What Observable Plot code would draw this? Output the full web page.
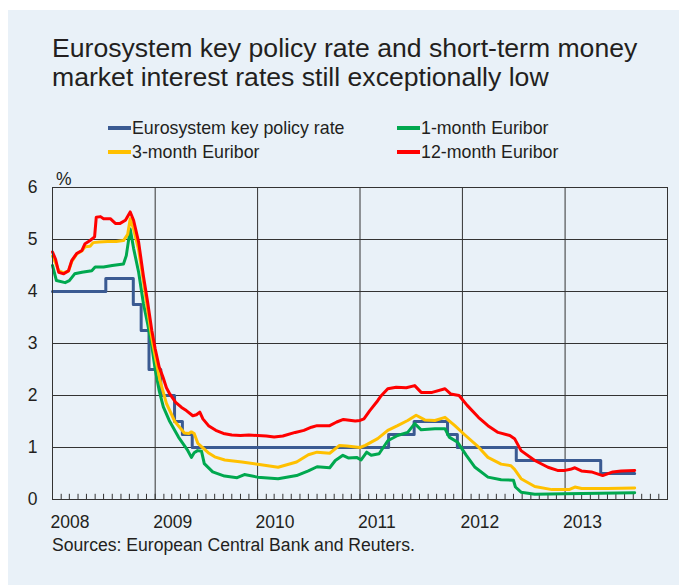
<!DOCTYPE html>
<html><head><meta charset="utf-8">
<script src="https://cdn.jsdelivr.net/npm/d3@7"></script>
<script src="https://cdn.jsdelivr.net/npm/@observablehq/plot@0.6"></script>
<style>
body{margin:0;background:#fff;width:679px;height:585px;overflow:hidden;position:relative;font-family:"Liberation Sans",Arial,sans-serif;color:#231f20}
#bg{position:absolute;left:8px;top:10px;right:0;bottom:0;background:#e9f1f8}
#title{position:absolute;left:52px;top:34px;font-size:26.6px;line-height:29px;white-space:nowrap}
.leg{position:absolute;font-size:17.8px;line-height:20px;white-space:nowrap}
.sw{display:inline-block;width:23px;height:4px;vertical-align:middle;margin-right:1px;position:relative;top:-1px}
#chart{position:absolute;left:0;top:160px}
#pct{position:absolute;left:56px;top:169px;font-size:17.5px}
#src{position:absolute;left:52px;top:535px;font-size:17.6px;white-space:nowrap}
</style></head>
<body>
<div id="bg"></div>
<div id="title">Eurosystem key policy rate and short-term money<br>market interest rates still exceptionally low</div>
<div id="legend"></div>
<div id="pct">%</div>
<div id="chart"></div>
<div id="src">Sources: European Central Bank and Reuters.</div>
<script>
// ---- data ----
const seriesNames = ["Eurosystem key policy rate", "1-month Euribor", "3-month Euribor", "12-month Euribor"];
const seriesColors = ["#3a5a92", "#00a84f", "#ffc000", "#ff0000"];
const yTicks = [0, 1, 2, 3, 4, 5, 6];
const yearLabels = ["2008", "2009", "2010", "2011", "2012", "2013"];

const policyDates = ["2008-01-01","2008-07-09","2008-10-15","2008-11-12","2008-12-10","2009-01-21","2009-03-11","2009-04-08","2009-05-13","2011-04-13","2011-07-13","2011-11-09","2011-12-14","2012-07-11","2013-05-08","2013-09-06"];
const policyRates = [4.00,4.25,3.75,3.25,2.50,2.00,1.50,1.25,1.00,1.25,1.50,1.25,1.00,0.75,0.50,0.50];

const m1Dates = ["2008-01-01","2008-01-15","2008-02-15","2008-03-01","2008-03-20","2008-04-15","2008-05-20","2008-06-01","2008-07-01","2008-08-01","2008-09-10","2008-09-20","2008-10-04","2008-10-16","2008-11-03","2008-11-20","2008-12-05","2008-12-20","2009-01-01","2009-01-15","2009-01-30","2009-02-20","2009-03-25","2009-04-25","2009-05-10","2009-05-20","2009-06-01","2009-06-15","2009-06-25","2009-07-25","2009-09-05","2009-10-20","2009-11-15","2010-01-01","2010-03-15","2010-05-20","2010-07-01","2010-08-01","2010-09-15","2010-10-05","2010-11-01","2010-11-20","2010-12-20","2011-01-05","2011-01-25","2011-02-10","2011-03-10","2011-04-10","2011-05-15","2011-06-20","2011-07-15","2011-08-07","2011-09-25","2011-10-31","2011-11-15","2011-12-15","2012-01-15","2012-02-15","2012-04-01","2012-05-18","2012-07-01","2012-07-08","2012-07-28","2012-09-15","2013-01-01","2013-09-06"];
const m1Rates = [4.50,4.21,4.17,4.21,4.34,4.37,4.40,4.47,4.47,4.50,4.53,4.69,5.20,4.83,4.37,3.77,3.38,2.95,2.50,2.10,1.78,1.52,1.20,0.96,0.81,0.90,0.94,0.93,0.69,0.53,0.45,0.42,0.48,0.43,0.40,0.46,0.55,0.63,0.61,0.75,0.85,0.80,0.81,0.76,0.91,0.85,0.88,1.13,1.23,1.29,1.46,1.34,1.36,1.36,1.20,1.10,0.85,0.62,0.43,0.38,0.37,0.24,0.14,0.10,0.11,0.13];

const m3Dates = ["2008-01-01","2008-01-12","2008-01-23","2008-02-10","2008-02-27","2008-03-10","2008-03-27","2008-04-15","2008-04-26","2008-05-14","2008-05-25","2008-06-15","2008-07-15","2008-08-15","2008-09-10","2008-09-25","2008-10-04","2008-10-16","2008-11-03","2008-11-20","2008-12-05","2008-12-20","2009-01-01","2009-01-18","2009-02-10","2009-03-12","2009-04-15","2009-05-01","2009-05-10","2009-05-20","2009-06-02","2009-07-09","2009-08-01","2009-09-06","2009-11-06","2010-01-01","2010-03-15","2010-05-20","2010-07-01","2010-08-01","2010-09-15","2010-10-20","2010-11-15","2011-01-01","2011-01-20","2011-03-05","2011-04-10","2011-05-15","2011-06-20","2011-07-20","2011-08-20","2011-09-25","2011-10-31","2011-12-05","2012-01-10","2012-02-27","2012-04-01","2012-05-18","2012-06-22","2012-07-05","2012-07-28","2012-09-15","2012-11-15","2013-01-15","2013-02-05","2013-03-01","2013-06-01","2013-09-06"];
const m3Rates = [4.68,4.55,4.40,4.36,4.39,4.58,4.72,4.78,4.86,4.87,4.94,4.95,4.96,4.96,4.98,5.10,5.40,5.20,4.80,4.20,3.65,3.10,2.75,2.29,1.85,1.50,1.28,1.27,1.30,1.27,1.08,0.90,0.82,0.76,0.72,0.68,0.62,0.72,0.86,0.91,0.89,1.04,1.03,1.00,1.04,1.17,1.33,1.42,1.52,1.62,1.53,1.52,1.58,1.42,1.24,1.01,0.81,0.68,0.65,0.58,0.40,0.25,0.19,0.19,0.24,0.21,0.21,0.22];

const m12Dates = ["2008-01-01","2008-01-12","2008-01-23","2008-02-10","2008-02-27","2008-03-10","2008-03-27","2008-04-15","2008-04-26","2008-05-14","2008-05-30","2008-06-05","2008-06-20","2008-07-01","2008-07-25","2008-08-12","2008-08-29","2008-09-17","2008-10-04","2008-10-16","2008-11-03","2008-11-20","2008-12-05","2008-12-20","2009-01-01","2009-01-15","2009-01-29","2009-02-10","2009-02-22","2009-03-15","2009-04-05","2009-04-22","2009-05-15","2009-05-28","2009-06-09","2009-06-20","2009-07-10","2009-08-05","2009-09-01","2009-10-01","2009-11-01","2009-12-01","2010-01-01","2010-02-01","2010-03-01","2010-04-01","2010-05-15","2010-06-15","2010-07-12","2010-08-01","2010-09-15","2010-10-10","2010-11-03","2010-12-15","2011-01-01","2011-01-15","2011-02-05","2011-03-05","2011-03-15","2011-04-10","2011-05-10","2011-06-15","2011-07-15","2011-08-07","2011-09-15","2011-10-31","2011-11-20","2011-12-20","2012-01-18","2012-02-27","2012-04-01","2012-05-07","2012-06-18","2012-07-05","2012-07-28","2012-09-15","2012-11-01","2012-12-05","2013-01-01","2013-01-20","2013-02-05","2013-02-28","2013-04-05","2013-05-15","2013-06-20","2013-07-20","2013-09-06"];
const m12Rates = [4.76,4.62,4.37,4.34,4.40,4.60,4.73,4.79,4.92,4.98,5.05,5.43,5.44,5.40,5.40,5.31,5.31,5.37,5.53,5.37,4.95,4.30,3.80,3.25,2.90,2.55,2.35,2.15,2.03,1.87,1.77,1.71,1.61,1.63,1.68,1.55,1.42,1.33,1.27,1.24,1.23,1.24,1.23,1.22,1.20,1.22,1.29,1.33,1.39,1.42,1.42,1.49,1.54,1.51,1.52,1.55,1.71,1.90,1.98,2.13,2.16,2.15,2.19,2.06,2.06,2.13,2.03,2.00,1.81,1.58,1.42,1.29,1.23,1.17,0.94,0.75,0.62,0.56,0.56,0.58,0.61,0.55,0.53,0.46,0.53,0.55,0.56];

// ---- build ----
const parse = d3.utcParse("%Y-%m-%d");
const toRows = (dates, vals) => dates.map((d, i) => ({date: parse(d), value: vals[i]}));
const series = [
  {rows: toRows(policyDates, policyRates), curve: "step-after"},
  {rows: toRows(m1Dates, m1Rates), curve: "linear"},
  {rows: toRows(m3Dates, m3Rates), curve: "linear"},
  {rows: toRows(m12Dates, m12Rates), curve: "linear"}
];
const x0 = d3.utcParse("%Y")(yearLabels[0]);
const x1 = d3.utcYear.offset(d3.utcParse("%Y")(yearLabels[yearLabels.length - 1]), 1);
const years = yearLabels.map(y => d3.utcParse("%Y")(y));
const months = d3.utcMonth.range(x0, x1);

// legend
const legendPos = [[108, 118], [397, 118], [108, 142], [397, 142]];
const legendOrder = [0, 1, 2, 3];
const leg = document.getElementById("legend");
legendOrder.forEach((si, k) => {
  const d = document.createElement("div");
  d.className = "leg";
  d.style.left = legendPos[k][0] + "px";
  d.style.top = legendPos[k][1] + "px";
  d.innerHTML = `<span class="sw" style="background:${seriesColors[si]}"></span>${seriesNames[si]}`;
  leg.appendChild(d);
});

const chart = Plot.plot({
  width: 679, height: 400,
  marginLeft: 52, marginRight: 12, marginTop: 27, marginBottom: 61,
  x: {type: "utc", domain: [x0, x1]},
  y: {domain: [0, 6]},
  style: {fontFamily: "'Liberation Sans', Arial, sans-serif", fontSize: "17.5px", background: "transparent", color: "#231f20"},
  marks: [
    Plot.ruleY(yTicks.slice(1, -1), {stroke: "#333", strokeWidth: 1}),
    Plot.ruleX(years.slice(1), {stroke: "#333", strokeWidth: 1}),
    Plot.ruleX(months.slice(1), {y1: 0, y2: 0.1, stroke: "#333", strokeWidth: 1}),
    ...series.map((s, i) => Plot.line(s.rows, {x: "date", y: "value", stroke: seriesColors[i], strokeWidth: 3, curve: s.curve, strokeLinejoin: "round"})),
    Plot.frame({stroke: "#333", strokeWidth: 1}),
    Plot.axisY(yTicks, {tickSize: 0, tickPadding: 15, label: null, tickFormat: d3.format("d"), fill: "#231f20"}),
    Plot.axisX(years, {tickSize: 0, tickPadding: 16, textAnchor: "start", dx: -2, label: null, tickFormat: d3.utcFormat("%Y"), fill: "#231f20"})
  ]
});
document.getElementById("chart").appendChild(chart);
</script>
</body></html>
